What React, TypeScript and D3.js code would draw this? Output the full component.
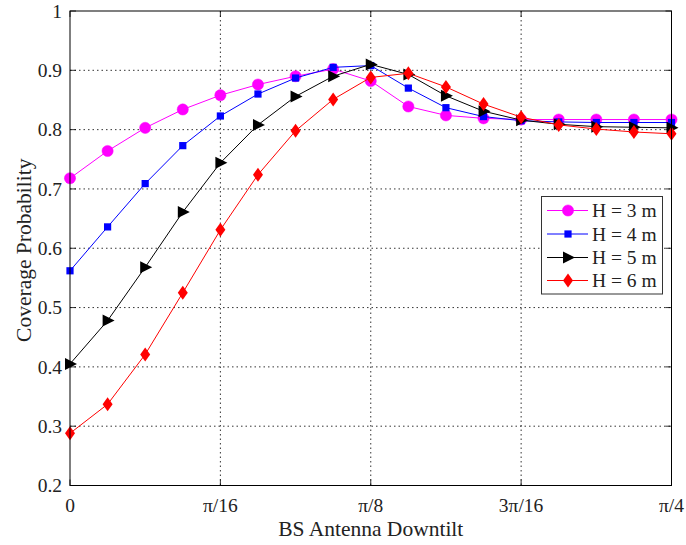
import React from "react";
import * as d3 from "d3";

const xIndex = d3.range(17);
const xTickValues = [0, Math.PI / 16, Math.PI / 8, (3 * Math.PI) / 16, Math.PI / 4];
const xTickLabels = ["0", "π/16", "π/8", "3π/16", "π/4"];
const yTickValues = [0.2, 0.3, 0.4, 0.5, 0.6, 0.7, 0.8, 0.9, 1];
const yTickLabels = ["0.2", "0.3", "0.4", "0.5", "0.6", "0.7", "0.8", "0.9", "1"];

const seriesNames = ["H = 3 m", "H = 4 m", "H = 5 m", "H = 6 m"];
const seriesColors = ["#ff00ff", "#0000ff", "#000000", "#ff0000"];
const seriesMarkers = ["circle", "square", "triangle", "diamond"];

const h3 = [0.718, 0.764, 0.803, 0.834, 0.858, 0.876, 0.89, 0.902, 0.882, 0.839, 0.824, 0.819, 0.817, 0.817, 0.817, 0.817, 0.817];
const h4 = [0.562, 0.636, 0.709, 0.773, 0.823, 0.86, 0.887, 0.905, 0.908, 0.87, 0.837, 0.822, 0.815, 0.813, 0.812, 0.812, 0.812];
const h5 = [0.405, 0.478, 0.568, 0.661, 0.744, 0.808, 0.856, 0.89, 0.91, 0.893, 0.857, 0.831, 0.816, 0.809, 0.805, 0.804, 0.803];
const h6 = [0.288, 0.337, 0.421, 0.525, 0.631, 0.724, 0.798, 0.851, 0.888, 0.895, 0.872, 0.843, 0.821, 0.808, 0.801, 0.796, 0.793];

const seriesValues = [h3, h4, h5, h6];

const W = 686;
const H = 545;
const left = 70;
const right = 671.5;
const top = 11;
const bottom = 485.5;
const FONT = "'Liberation Serif', 'Times New Roman', serif";

function Marker({ type, x, y, color }: { type: string; x: number; y: number; color: string }) {
  if (type === "circle") return <circle cx={x} cy={y} r={5.6} fill={color} stroke={color} strokeWidth={0.5} />;
  if (type === "square") return <rect x={x - 3.6} y={y - 3.6} width={7.2} height={7.2} fill={color} />;
  if (type === "triangle")
    return <path d={`M${x - 5},${y - 6}L${x + 7},${y}L${x - 5},${y + 6}Z`} fill={color} />;
  return <path d={`M${x},${y - 7}L${x + 5},${y}L${x},${y + 7}L${x - 5},${y}Z`} fill={color} />;
}

export default function App() {
  const x = d3.scaleLinear().domain([0, Math.PI / 4]).range([left, right]);
  const y = d3.scaleLinear().domain([0.2, 1]).range([bottom, top]);
  const xv = (i: number) => x((i * Math.PI) / 64);
  const line = d3
    .line<number>()
    .x((_, i) => xv(i))
    .y((d) => y(d));

  const legX = 541.5;
  const legY = 196.5;
  const legW = 121;
  const legH = 97.5;
  const rowY = [210.5, 234, 257.5, 280.5];

  return (
    <svg width={W} height={H} style={{ position: "absolute", left: 0, top: 0, background: "#fff" }} fontFamily={FONT}>
      <rect x={0} y={0} width={W} height={H} fill="#fff" />
      {/* grid */}
      {xTickValues.slice(1, -1).map((v, i) => (
        <line key={"gx" + i} x1={x(v)} x2={x(v)} y1={top} y2={bottom} stroke="#000" strokeWidth={0.8} strokeDasharray="1.5,3" />
      ))}
      {yTickValues.slice(1, -1).map((v, i) => (
        <line key={"gy" + i} x1={left} x2={right} y1={y(v)} y2={y(v)} stroke="#000" strokeWidth={0.8} strokeDasharray="1.5,3" />
      ))}
      {/* ticks */}
      {xTickValues.map((v, i) => (
        <g key={"tx" + i}>
          <line x1={x(v)} x2={x(v)} y1={bottom} y2={bottom - 6} stroke="#000" strokeWidth={0.8} />
          <line x1={x(v)} x2={x(v)} y1={top} y2={top + 6} stroke="#000" strokeWidth={0.8} />
          <text x={x(v)} y={511.5} textAnchor="middle" fontSize={19.5} fill="#222">
            {xTickLabels[i]}
          </text>
        </g>
      ))}
      {yTickValues.map((v, i) => (
        <g key={"ty" + i}>
          <line x1={left} x2={left + 6} y1={y(v)} y2={y(v)} stroke="#000" strokeWidth={0.8} />
          <line x1={right} x2={right - 6} y1={y(v)} y2={y(v)} stroke="#000" strokeWidth={0.8} />
          <text x={62} y={y(v)} dy="0.35em" textAnchor="end" fontSize={19.5} fill="#222">
            {yTickLabels[i]}
          </text>
        </g>
      ))}
      {/* series */}
      {seriesValues.map((vals, s) => (
        <g key={"s" + s}>
          <path d={line(vals) || ""} fill="none" stroke={seriesColors[s]} strokeWidth={1} />
          {vals.map((v, i) => (
            <Marker key={i} type={seriesMarkers[s]} x={xv(i)} y={y(v)} color={seriesColors[s]} />
          ))}
        </g>
      ))}
      {/* frame */}
      <rect x={left} y={top} width={right - left} height={bottom - top} fill="none" stroke="#000" strokeWidth={1} />
      {/* axis titles */}
      <text x={(left + right) / 2} y={536} textAnchor="middle" fontSize={21.5} fill="#222">
        BS Antenna Downtilt
      </text>
      <text
        transform={`translate(31,${(top + bottom) / 2 + 2}) rotate(-90)`}
        textAnchor="middle"
        fontSize={21.5}
        fill="#222"
      >
        Coverage Probability
      </text>
      {/* legend */}
      <rect x={legX} y={legY} width={legW} height={legH} fill="#fff" stroke="#333" strokeWidth={1} />
      {seriesNames.map((n, s) => (
        <g key={"l" + s}>
          <line x1={547} x2={588} y1={rowY[s]} y2={rowY[s]} stroke={seriesColors[s]} strokeWidth={1} />
          <Marker type={seriesMarkers[s]} x={568} y={rowY[s]} color={seriesColors[s]} />
          <text x={592} y={rowY[s]} dy="0.35em" fontSize={19.5} fill="#222">
            {n}
          </text>
        </g>
      ))}
    </svg>
  );
}
